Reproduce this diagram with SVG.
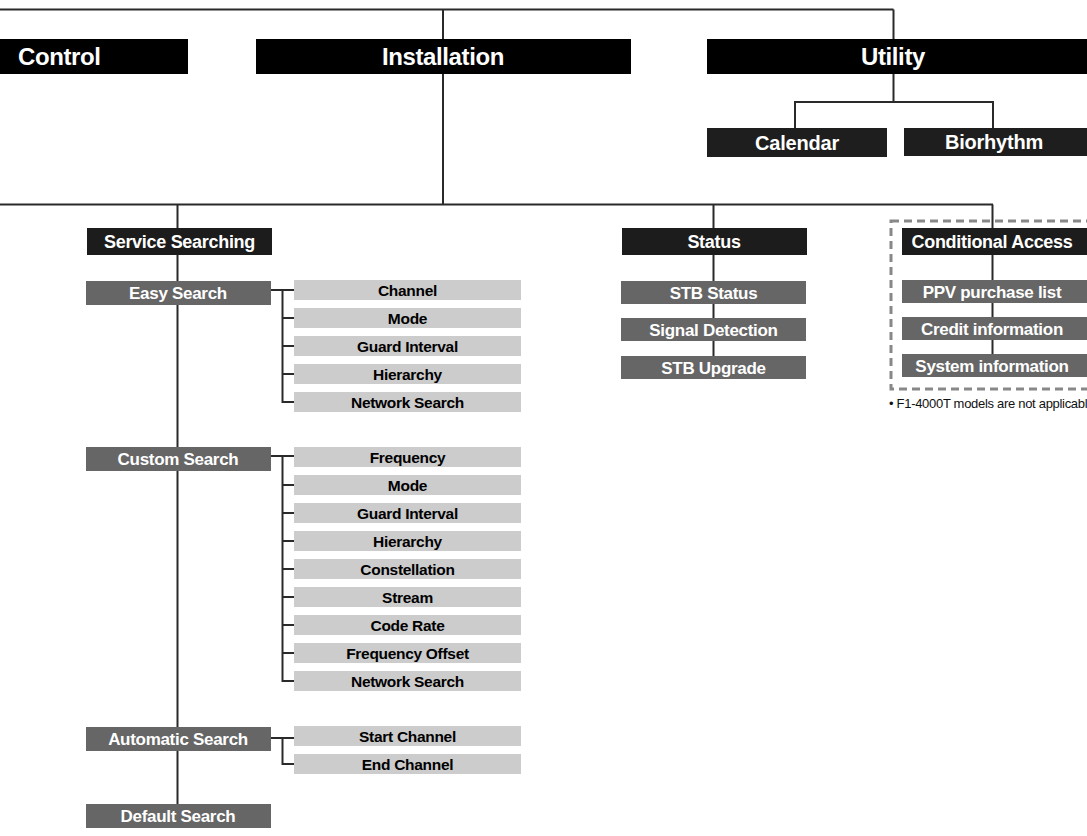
<svg xmlns="http://www.w3.org/2000/svg" width="1087" height="836" viewBox="0 0 1087 836">
<style>
text{font-family:"Liberation Sans",Arial,sans-serif;font-weight:bold}
.top rect{fill:#000}
.top text{fill:#fff;font-size:24px;letter-spacing:-0.4px}
.sub rect{fill:#1e1e1e}
.sub text{fill:#fff;font-size:20px;letter-spacing:-0.2px;text-anchor:middle}
.dark rect{fill:#1c1c1c}
.dark text{fill:#fff;font-size:18px;letter-spacing:-0.3px;text-anchor:middle}
.gray rect{fill:#666}
.gray text{fill:#fff;font-size:17px;letter-spacing:-0.3px;text-anchor:middle}
.item rect{fill:#ccc}
.item text{fill:#000;font-size:15.5px;letter-spacing:-0.3px;text-anchor:middle}
.conn path{fill:none;stroke:#2a2a2a;stroke-width:2}
.note{font-weight:normal;font-size:13px;letter-spacing:-0.3px;fill:#111}
</style>
<rect width="1087" height="836" fill="#fff"/>
<g id="connectors" class="conn">
<path d="M0 9.5H893.5M443 9.5V204.5M893.5 9.5V39"/>
<path d="M893.5 74V102M795 128V102H993V128"/>
<path d="M0 204.5H993M177.5 204.5V804M713.5 204.5V356M992.5 204.5V354"/>
<path d="M271 290H294M282.5 290V402H294M282.5 318H294M282.5 346H294M282.5 374H294"/>
<path d="M271 456H294M282.5 456V681H294M282.5 485H294M282.5 513H294M282.5 541H294M282.5 569H294M282.5 597H294M282.5 625H294M282.5 653H294"/>
<path d="M271 738H294M282.5 738V764H294"/>
</g>
<rect x="891" y="221" width="210" height="168" fill="none" stroke="#888" stroke-width="3" stroke-dasharray="8 5"/>
<g id="control" class="top"><rect x="0" y="39" width="188" height="35"/><text x="18" y="65">Control</text></g>
<g id="installation" class="top"><rect x="256" y="39" width="375" height="35"/><text x="443" y="65" text-anchor="middle">Installation</text></g>
<g id="utility" class="top"><rect x="707" y="39" width="380" height="35"/><text x="893" y="65" text-anchor="middle">Utility</text></g>
<g id="calendar" class="sub"><rect x="707" y="128" width="180" height="29"/><text x="797" y="149.5">Calendar</text></g>
<g id="biorhythm" class="sub"><rect x="904" y="128" width="183" height="28"/><text x="994" y="149">Biorhythm</text></g>
<g id="service-searching" class="dark"><rect x="87" y="228" width="185" height="27"/><text x="179.5" y="248">Service Searching</text></g>
<g id="status" class="dark"><rect x="622" y="228" width="185" height="27"/><text x="714" y="248">Status</text></g>
<g id="conditional-access" class="dark"><rect x="902" y="228" width="185" height="27"/><text x="992" y="248">Conditional Access</text></g>
<g id="easy-search" class="gray"><rect x="86" y="281" width="185" height="24"/><text x="178" y="299">Easy Search</text></g>
<g id="custom-search" class="gray"><rect x="86" y="447" width="185" height="24"/><text x="178" y="465">Custom Search</text></g>
<g id="automatic-search" class="gray"><rect x="86" y="727" width="185" height="24"/><text x="178" y="745">Automatic Search</text></g>
<g id="default-search" class="gray"><rect x="86" y="804" width="185" height="24"/><text x="178" y="822">Default Search</text></g>
<g id="stb-status" class="gray"><rect x="621" y="281" width="185" height="23"/><text x="713.5" y="298.5">STB Status</text></g>
<g id="signal-detection" class="gray"><rect x="621" y="318" width="185" height="23"/><text x="713.5" y="335.5">Signal Detection</text></g>
<g id="stb-upgrade" class="gray"><rect x="621" y="356" width="185" height="23"/><text x="713.5" y="373.5">STB Upgrade</text></g>
<g id="ppv" class="gray"><rect x="902" y="280" width="185" height="23"/><text x="992" y="297.5">PPV purchase list</text></g>
<g id="credit" class="gray"><rect x="902" y="317" width="185" height="23"/><text x="992" y="334.5">Credit information</text></g>
<g id="system" class="gray"><rect x="902" y="354" width="185" height="23"/><text x="992" y="371.5">System information</text></g>
<g id="e-channel" class="item"><rect x="294" y="280" width="227" height="20"/><text x="407.5" y="295.5">Channel</text></g>
<g id="e-mode" class="item"><rect x="294" y="308" width="227" height="20"/><text x="407.5" y="323.5">Mode</text></g>
<g id="e-guard" class="item"><rect x="294" y="336" width="227" height="20"/><text x="407.5" y="351.5">Guard Interval</text></g>
<g id="e-hierarchy" class="item"><rect x="294" y="364" width="227" height="20"/><text x="407.5" y="379.5">Hierarchy</text></g>
<g id="e-network" class="item"><rect x="294" y="392" width="227" height="20"/><text x="407.5" y="407.5">Network Search</text></g>
<g id="c-frequency" class="item"><rect x="294" y="447" width="227" height="20"/><text x="407.5" y="462.5">Frequency</text></g>
<g id="c-mode" class="item"><rect x="294" y="475" width="227" height="20"/><text x="407.5" y="490.5">Mode</text></g>
<g id="c-guard" class="item"><rect x="294" y="503" width="227" height="20"/><text x="407.5" y="518.5">Guard Interval</text></g>
<g id="c-hierarchy" class="item"><rect x="294" y="531" width="227" height="20"/><text x="407.5" y="546.5">Hierarchy</text></g>
<g id="c-constellation" class="item"><rect x="294" y="559" width="227" height="20"/><text x="407.5" y="574.5">Constellation</text></g>
<g id="c-stream" class="item"><rect x="294" y="587" width="227" height="20"/><text x="407.5" y="602.5">Stream</text></g>
<g id="c-coderate" class="item"><rect x="294" y="615" width="227" height="20"/><text x="407.5" y="630.5">Code Rate</text></g>
<g id="c-offset" class="item"><rect x="294" y="643" width="227" height="20"/><text x="407.5" y="658.5">Frequency Offset</text></g>
<g id="c-network" class="item"><rect x="294" y="671" width="227" height="20"/><text x="407.5" y="686.5">Network Search</text></g>
<g id="a-start" class="item"><rect x="294" y="726" width="227" height="20"/><text x="407.5" y="741.5">Start Channel</text></g>
<g id="a-end" class="item"><rect x="294" y="754" width="227" height="20"/><text x="407.5" y="769.5">End Channel</text></g>
<text class="note" x="889" y="408">• F1-4000T models are not applicable</text>
</svg>
